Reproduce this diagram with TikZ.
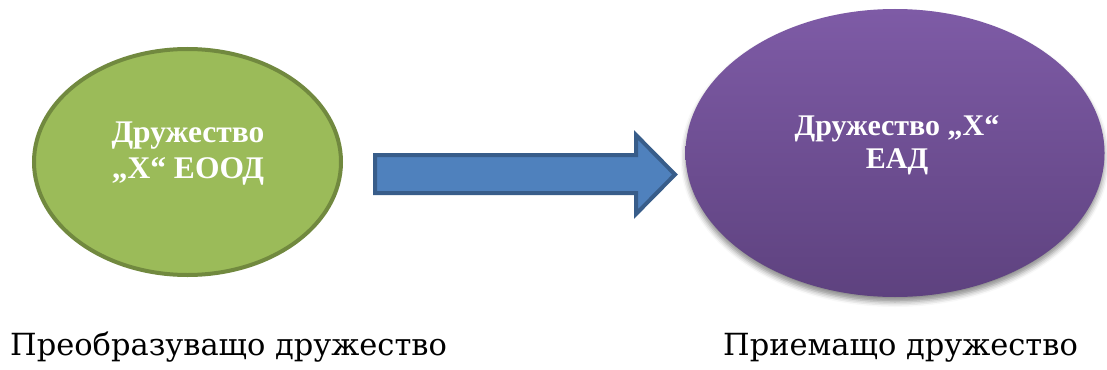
\documentclass[tikz,border=0pt]{standalone}
\usepackage{fontspec}
\setmainfont{Liberation Serif}
\newfontfamily\labelfont{DejaVu Serif}
\usepackage{xcolor}
\usepackage{tikz}
\usetikzlibrary{shapes.geometric,shadows.blur}
\usetikzlibrary{positioning}
\definecolor{olivefill}{HTML}{9BBB59}
\definecolor{olivedraw}{HTML}{71893F}
\definecolor{arrowfill}{HTML}{4F81BD}
\definecolor{arrowdraw}{HTML}{385D8A}
\definecolor{violettop}{HTML}{7E5BA6}
\definecolor{violetbot}{HTML}{5E427F}
\tikzstyle{company} = [ellipse, inner sep=0pt]
\tikzstyle{intext} = [text=white, align=center, inner sep=0pt]
\tikzstyle{caption} = [anchor=base west, inner sep=0pt,
    font=\labelfont\fontsize{30.5}{36}\selectfont]
\tikzstyle{bigarrow} = [draw=arrowdraw, fill=arrowfill, line width=4pt, line join=miter]

\begin{document}
\begin{tikzpicture}[x=1pt, y=-1pt]
    \useasboundingbox (0,0) rectangle (1107,369);
    % Place nodes
    \node [company, draw=olivedraw, line width=4pt, fill=olivefill,
        minimum width=307pt, minimum height=226pt] (transf) at (187.5,162) {};
    \node [company, top color=violettop, bottom color=violetbot,
        minimum width=419pt, minimum height=288pt,
        blur shadow={shadow xshift=0pt, shadow yshift=-5pt, shadow blur radius=5pt, shadow opacity=45}] (recv) at (895,153) {};
    \node [intext, font=\fontsize{31.5}{36}\selectfont\bfseries] (transfname) at (188,154) {Дружество\\„Х“ ЕООД};
    \node [intext, font=\fontsize{30}{33}\selectfont\bfseries] (recvname) at (897,145) {Дружество „Х“\\ЕАД};
    \node [caption] (transflbl) at (10,355) {Преобразуващо дружество};
    \node [caption] (recvlbl) at (723,355) {Приемащо дружество};
    % Draw arrow
    \draw [bigarrow] (375,155) -- (636,155) -- (636,135) -- (675,174.5)
        -- (636,214) -- (636,193) -- (375,193) -- cycle;
\end{tikzpicture}
\end{document}
